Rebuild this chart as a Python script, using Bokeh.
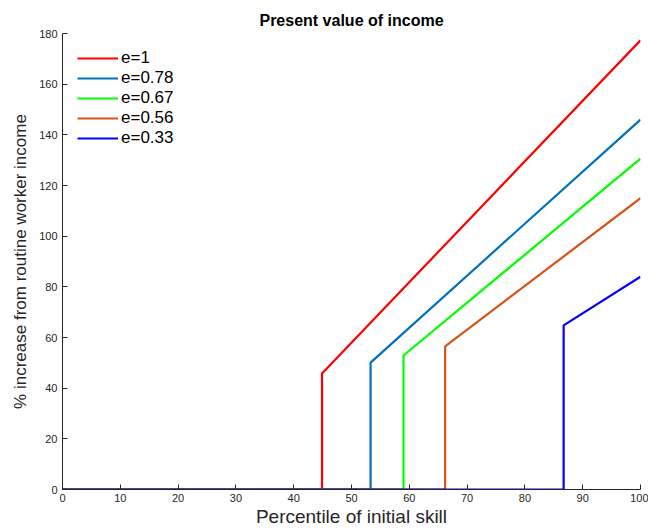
from bokeh.plotting import figure
from bokeh.models import Legend, LegendItem, Range1d, FixedTicker
from bokeh.embed import file_html
from bokeh.resources import INLINE

labels = ["e=1", "e=0.78", "e=0.67", "e=0.56", "e=0.33"]
colors = ["#ff0000", "#0072bd", "#00ff00", "#d95319", "#0000ff"]
jump_x = [44.9, 53.3, 59.0, 66.2, 86.7]
jump_y = [45.8, 50.1, 52.9, 56.5, 64.8]
end_y = [177.3, 146.0, 130.6, 115.0, 84.0]
x_start, x_end = 0, 100

FONT = "Liberation Sans"

p = figure(width=648, height=529, output_backend="svg", toolbar_location=None,
           title="Present value of income",
           x_range=Range1d(0, 100), y_range=Range1d(0, 180),
           min_border_left=62, min_border_right=8, min_border_top=33, min_border_bottom=40)

items = []
for lab, c, jx, jy, ey in zip(labels, colors, jump_x, jump_y, end_y):
    xs = [x_start, jx, jx, x_end]
    ys = [0, 0, jy, ey]
    r = p.line(xs, ys, line_color=c, line_width=2.2)
    items.append(LegendItem(label=lab, renderers=[r]))

legend = Legend(items=items, location="top_left")
legend.border_line_color = None
legend.background_fill_alpha = 0
legend.label_text_font = FONT
legend.label_text_font_size = "17px"
legend.label_text_color = "#000000"
legend.glyph_width = 41
legend.glyph_height = 18
legend.label_standoff = 3
legend.spacing = 0
legend.label_height = 18
legend.padding = 0
legend.margin = 15
p.add_layout(legend)

p.title.align = "center"
p.title.text_font = FONT
p.title.text_font_size = "16px"
p.title.text_font_style = "bold"
p.title.text_color = "#000000"
p.title.offset = 0

p.xgrid.visible = False
p.ygrid.visible = False
p.outline_line_color = None

p.xaxis.ticker = FixedTicker(ticks=list(range(0, 101, 10)))
p.yaxis.ticker = FixedTicker(ticks=list(range(0, 181, 20)))
p.xaxis.axis_label = "Percentile of initial skill"
p.yaxis.axis_label = "% increase from routine worker income"
for ax in (p.xaxis[0], p.yaxis[0]):
    ax.axis_label_text_font = FONT
    ax.axis_label_text_font_style = "normal"
    ax.axis_label_text_color = "#262626"
    ax.major_label_text_font = FONT
    ax.major_label_text_font_size = "11px"
    ax.major_label_text_color = "#262626"
    ax.axis_line_color = "#262626"
    ax.major_tick_line_color = "#262626"
    ax.major_tick_in = 5
    ax.major_tick_out = 0
    ax.minor_tick_line_color = None
p.xaxis.axis_label_text_font_size = "19px"
p.yaxis.axis_label_text_font_size = "17px"
p.xaxis.major_label_standoff = 4
p.xaxis.axis_label_standoff = 1
p.yaxis.major_label_standoff = 5
p.yaxis.axis_label_standoff = 6

open("out.html", "w").write(file_html(p, INLINE))
